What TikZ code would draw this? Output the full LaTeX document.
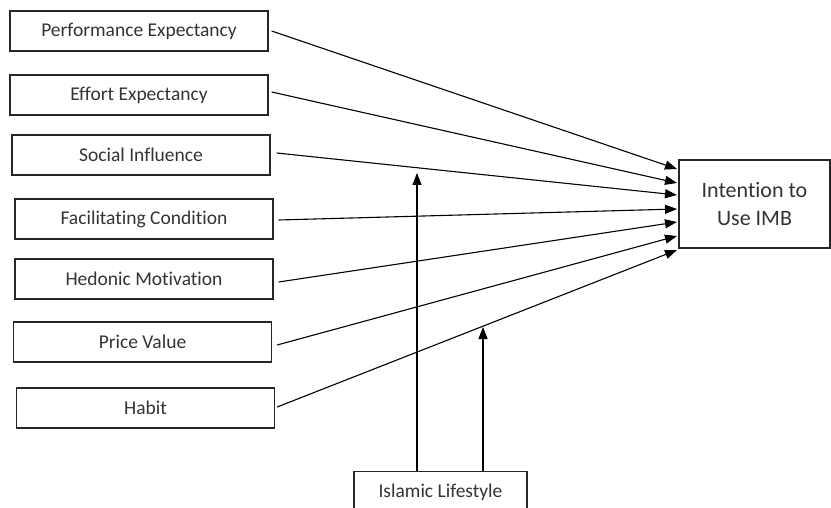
\documentclass[tikz,border=0pt]{standalone}
\usepackage{fontspec}
\setmainfont{Carlito}[Ligatures=NoCommon]
\usetikzlibrary{arrows.meta,calc}
\begin{document}
\begin{tikzpicture}[x=1pt,y=-1pt,
  src/.style={draw=black!85,line width=1.3pt,minimum width=258pt,minimum height=40pt,inner sep=0pt,font=\fontsize{19.5}{23}\selectfont,text=black!80},
  conn/.style={line width=1.1pt,-{Triangle[length=12pt,width=9pt]}}]
\useasboundingbox (0,0) rectangle (831,508);
\begin{scope}
\clip (0,0) rectangle (831,508);
\node[src] (pe) at (139,31) {Performance Expectancy};
\node[src] (ee) at (139,95) {Effort Expectancy};
\node[src] (si) at (141,155) {Social Influence};
\node[src] (fc) at (144,219) {Facilitating Condition};
\node[src] (hm) at (144,279) {Hedonic Motivation};
\node[src] (pv) at (142.5,342) {Price Value};
\node[src] (hb) at (145.5,408) {Habit};
\node[draw=black!85,line width=1.3pt,minimum width=151pt,minimum height=88pt,inner sep=0pt,align=center,font=\fontsize{22}{28}\selectfont,text=black!80] (im) at (754.5,204) {Intention to\\Use IMB};
\node[draw=black!85,line width=1.3pt,minimum width=173pt,minimum height=42pt,inner sep=0pt,font=\fontsize{19.5}{23}\selectfont,text=black!80,anchor=north] (il) at (440.5,471) {Islamic Lifestyle};
\end{scope}
\coordinate (t1) at (677,169);
\coordinate (t2) at (677,183);
\coordinate (t3) at (677,195);
\coordinate (t4) at (677,209);
\coordinate (t5) at (677,222);
\coordinate (t6) at (677,236);
\coordinate (t7) at (677,250);
\draw[conn] ($(pe.east)+(3,0)$) -- (t1);
\draw[conn] ($(ee.east)+(3,-3)$) -- (t2);
\draw[conn] ($(si.east)+(6,-2)$) -- (t3);
\draw[conn] ($(fc.east)+(5,1)$) -- (t4);
\draw[conn] ($(hm.east)+(5,3)$) -- (t5);
\draw[conn] ($(pv.east)+(5,3)$) -- (t6);
\draw[conn] ($(hb.east)+(2,-1)$) -- (t7);
\coordinate (m1) at (417,173);
\coordinate (m2) at (483,327);
\draw[conn] (il.north -| m1) -- (m1);
\draw[conn] (il.north -| m2) -- (m2);
\end{tikzpicture}
\end{document}
